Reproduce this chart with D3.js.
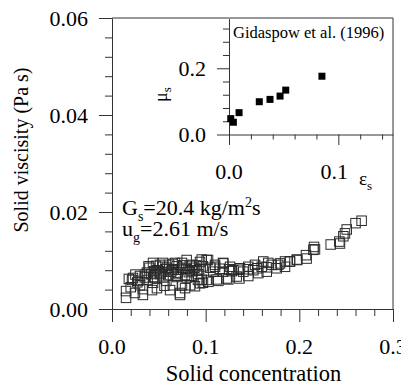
<!DOCTYPE html>
<html><head><meta charset="utf-8">
<script src="https://cdn.jsdelivr.net/npm/d3@7"></script>
<style>
html,body{margin:0;padding:0;background:#fff;}
svg{display:block;}
</style></head>
<body>
<svg id="c" width="401" height="389" font-family="'Liberation Serif', 'DejaVu Serif', serif"></svg>
<script>
// ---- Data ----
const concentration = [0.015,0.015,0.0245,0.033,0.033,0.0427,0.0224,0.0299,0.0438,0.046,0.0512,0.0587,0.064,0.0694,0.0726,0.0747,0.0833,0.0833,0.0907,0.0918,0.0971,0.048,
0.0438,0.0544,0.065,0.0747,0.0854,0.048,0.0726,0.065,0.0374,0.0299,0.0214,
0.0797,0.0673,0.0512,0.094,0.062,0.078,0.0886,
0.02,0.027,0.038,0.055,0.06,0.07,0.078,0.085,0.056,0.04,0.058,0.075,0.088,
0.0958,0.1025,0.11,0.1185,0.126,0.1366,0.1455,0.1527,0.1615,0.1669,0.1775,0.1847,0.1972,
0.101,0.1118,0.1224,0.1331,0.1455,0.1562,0.1652,0.1758,0.1847,0.0958,0.094,
0.1082,0.1185,0.1295,0.1402,0.1509,0.1598,0.1705,0.1794,0.19,
0.1028,0.1135,0.1242,0.136,0.1278,0.119,0.11,0.101,
0.2665,0.260,0.2506,0.2487,0.247,0.2427,0.2335,0.2434,0.2157,0.215,0.2167,0.2071,0.2078,0.1978,0.19,
0.018,0.025,0.036,0.045,0.052,0.068,0.082,0.092,0.028,0.044,0.066,0.08,
0.035,0.042,0.05,0.057,0.063,0.071,0.079,0.086,0.093,0.039,0.047,0.054,0.061,0.069,0.076,0.083,0.09,0.097,0.105,0.115,0.125,0.135,0.145,0.155,0.165];
const viscosity = [0.0037,0.0023,0.0033,0.0029,0.0041,0.0039,0.0064,0.0068,0.0054,0.0064,0.0074,0.0085,0.008,0.0066,0.0029,0.0049,0.0049,0.008,0.008,0.006,0.0054,0.008,
0.0095,0.0095,0.0093,0.0095,0.0091,0.0043,0.0033,0.0049,0.0075,0.0049,0.006,
0.0101,0.0095,0.0091,0.0097,0.0039,0.0043,0.0047,
0.0045,0.0055,0.006,0.0065,0.007,0.0075,0.007,0.0068,0.0048,0.0085,0.0058,0.0085,0.0085,
0.0102,0.0101,0.0091,0.0095,0.0087,0.0084,0.0087,0.0091,0.0098,0.0095,0.0091,0.0098,0.0102,
0.006,0.0061,0.0063,0.0067,0.0068,0.0074,0.0077,0.0084,0.0087,0.006,0.0053,
0.0077,0.0077,0.008,0.0077,0.008,0.0087,0.0091,0.0094,0.0098,
0.0056,0.0058,0.0061,0.0063,0.0078,0.0094,0.0087,0.0101,
0.0182,0.0177,0.0164,0.0156,0.015,0.0139,0.0133,0.0135,0.0128,0.0122,0.0123,0.0111,0.0104,0.0101,0.0098,
0.0062,0.0071,0.0072,0.0078,0.0072,0.0072,0.0076,0.0072,0.0058,0.0066,0.0082,0.0065,
0.0065,0.0072,0.0078,0.0082,0.0077,0.0081,0.0083,0.0078,0.0082,0.0088,0.0089,0.0087,0.0091,0.0088,0.009,0.0089,0.009,0.0088,0.0085,0.0083,0.0082,0.0081,0.0082,0.0084,0.0086];

// Inset: Gidaspow et al. (1996)
const insetEps = [0.0016,0.004,0.0092,0.0277,0.0375,0.0467,0.0519,0.085];
const insetMu  = [0.048,0.037,0.066,0.099,0.106,0.116,0.134,0.176];

const mainXTicks = [0,0.1,0.2,0.3];
const mainYTicks = [0,0.02,0.04,0.06];
const insetXTicks = [0,0.1];
const insetYTicks = [0,0.2];

// ---- Drawing ----
const svg = d3.select("#c");
const L=112,R=393,T=18,B=309;
const x = d3.scaleLinear().domain([0,0.3]).range([L,R]);
const y = d3.scaleLinear().domain([0,0.06]).range([B,T]);
const lineCol="#333";
const fmt1 = d3.format(".1f"), fmt2 = d3.format(".2f");
const FS = 22;

// frame top/right
svg.append("line").attr("x1",L).attr("x2",R).attr("y1",T).attr("y2",T).attr("stroke",lineCol);
svg.append("line").attr("x1",R).attr("x2",R).attr("y1",T).attr("y2",B).attr("stroke",lineCol);

function styleAxis(g, majors, majorLen, minorLen, horizontal){
  g.select(".domain").attr("stroke",lineCol);
  g.selectAll(".tick line").attr("stroke",lineCol).each(function(d){
    const isMaj = majors.some(m=>Math.abs(m-d)<1e-9);
    const len = isMaj?majorLen:minorLen;
    if(horizontal) d3.select(this).attr("y2",len); else d3.select(this).attr("x2",-len);
  });
  g.selectAll(".tick text").remove();
}

// main y axis
const yTickVals = d3.range(0,0.0601,0.004);
const gy = svg.append("g").attr("transform",`translate(${L},0)`)
  .call(d3.axisLeft(y).tickValues(yTickVals).tickSizeOuter(0));
styleAxis(gy, mainYTicks, 13, 7, false);
mainYTicks.forEach(v=>{
  svg.append("text").attr("x",88).attr("y",y(v)+7.5).attr("text-anchor","end")
    .attr("font-size",FS).text(fmt2(v));
});

// main x axis
const xTickVals = d3.range(0,0.3001,0.02);
const gx = svg.append("g").attr("transform",`translate(0,${B})`)
  .call(d3.axisBottom(x).tickValues(xTickVals).tickSizeOuter(0));
styleAxis(gx, mainXTicks, 13, 7, true);
mainXTicks.forEach(v=>{
  svg.append("text").attr("x",x(v)).attr("y",354).attr("text-anchor","middle")
    .attr("font-size",FS).text(fmt1(v));
});

// axis titles
svg.append("text").attr("x",(L+R)/2+1).attr("y",381).attr("text-anchor","middle")
  .attr("font-size",22.5).text("Solid concentration");
svg.append("text").attr("transform","translate(28,150) rotate(-90)").attr("text-anchor","middle")
  .attr("font-size",20).text("Solid viscisity (Pa s)");

// scatter
const pts = concentration.map((c,i)=>[c,viscosity[i]]);
const S=9.5;
svg.append("g").selectAll("rect").data(pts).join("rect")
  .attr("x",d=>x(d[0])-S/2).attr("y",d=>y(d[1])-S/2)
  .attr("width",S).attr("height",S)
  .attr("fill","none").attr("stroke","#2a2a2a").attr("stroke-width",1);

// annotation
const t1 = svg.append("text").attr("x",122).attr("y",215).attr("font-size",FS);
t1.append("tspan").text("G");
t1.append("tspan").attr("font-size",14).attr("dy",6).text("s");
t1.append("tspan").attr("dy",-6).text("=20.4 kg/m");
t1.append("tspan").attr("font-size",14).attr("dy",-8).text("2");
t1.append("tspan").attr("dy",8).text("s");
const t2 = svg.append("text").attr("x",122).attr("y",236).attr("font-size",FS);
t2.append("tspan").text("u");
t2.append("tspan").attr("font-size",14).attr("dy",6).text("g");
t2.append("tspan").attr("dy",-6).text("=2.61 m/s");

// ---- Inset ----
const IL=229, IR=393, IB=134.5, IT=18.6;
const ix = d3.scaleLinear().domain([0,0.15]).range([IL,IR]);
const iy = d3.scaleLinear().domain([0,0.35]).range([IB,IT]);
const giy = svg.append("g").attr("transform",`translate(${IL},0)`)
  .call(d3.axisLeft(iy).tickValues(d3.range(0,0.321,0.04)).tickSizeOuter(0));
styleAxis(giy, insetYTicks, 12, 6, false);
const gix = svg.append("g").attr("transform",`translate(0,${IB})`)
  .call(d3.axisBottom(ix).tickValues(d3.range(0,0.1401,0.02)).tickSizeOuter(0));
styleAxis(gix, insetXTicks, 10.5, 5, true);
insetYTicks.forEach(v=>{
  svg.append("text").attr("x",206).attr("y",iy(v)+7.5).attr("text-anchor","end")
    .attr("font-size",FS).text(fmt1(v));
});
insetXTicks.forEach(v=>{
  svg.append("text").attr("x",ix(v)-(v>0?4:0)).attr("y",178.5).attr("text-anchor","middle")
    .attr("font-size",FS).text(fmt1(v));
});
const mu = svg.append("text").attr("transform","translate(166.5,102) rotate(-90)").attr("font-size",18);
mu.append("tspan").text("μ");
mu.append("tspan").attr("font-size",13).attr("dy",4).text("s");
const ep = svg.append("text").attr("x",359).attr("y",185).attr("font-size",19);
ep.append("tspan").text("ε");
ep.append("tspan").attr("font-size",13).attr("dy",5).text("s");
svg.append("text").attr("x",233).attr("y",38).attr("font-size",16.5).text("Gidaspow et al. (1996)");

const IS=7;
svg.append("g").selectAll("rect").data(insetEps.map((e,i)=>[e,insetMu[i]])).join("rect")
  .attr("x",d=>ix(d[0])-IS/2).attr("y",d=>iy(d[1])-IS/2)
  .attr("width",IS).attr("height",IS).attr("fill","#000");
</script>
</body></html>
